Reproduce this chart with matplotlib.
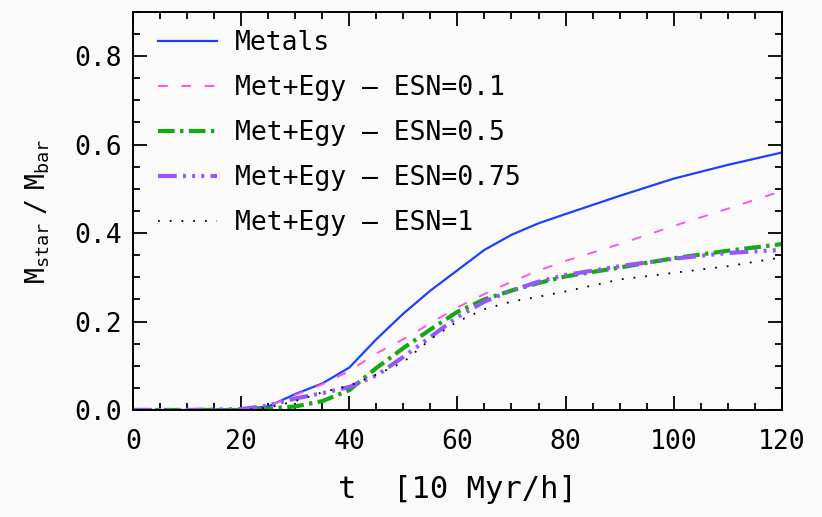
import matplotlib
matplotlib.use("Agg")
import matplotlib.pyplot as plt
from matplotlib.ticker import MultipleLocator

# time axis samples, in units of 10 Myr/h
t = [0, 10, 20, 25, 30, 35, 40, 45, 50, 55, 60, 65, 70, 75, 80, 90, 100, 110, 120]

metals = [0.0, 0.0, 0.002, 0.008, 0.036, 0.06, 0.096, 0.16, 0.218, 0.27, 0.316, 0.362, 0.396, 0.422, 0.443, 0.484, 0.523, 0.554, 0.582]
esn_01 = [0.0, 0.0, 0.002, 0.008, 0.034, 0.058, 0.088, 0.128, 0.16, 0.196, 0.232, 0.262, 0.29, 0.315, 0.337, 0.375, 0.416, 0.455, 0.495]
esn_05 = [0.0, 0.0, 0.0, 0.003, 0.008, 0.02, 0.045, 0.095, 0.14, 0.182, 0.222, 0.25, 0.27, 0.287, 0.302, 0.322, 0.343, 0.36, 0.375]
esn_075 = [0.0, 0.0, 0.002, 0.01, 0.026, 0.038, 0.052, 0.078, 0.12, 0.165, 0.21, 0.245, 0.27, 0.29, 0.305, 0.325, 0.342, 0.355, 0.362]
esn_1 = [0.0, 0.0, 0.0, 0.005, 0.02, 0.04, 0.055, 0.08, 0.108, 0.16, 0.2, 0.228, 0.245, 0.256, 0.268, 0.295, 0.31, 0.325, 0.345]

labels = ["Metals", "Met+Egy \u2013 ESN=0.1", "Met+Egy \u2013 ESN=0.5",
          "Met+Egy \u2013 ESN=0.75", "Met+Egy \u2013 ESN=1"]

plt.rcParams["font.family"] = ["DejaVu Sans Mono", "DejaVu Sans"]
plt.rcParams["mathtext.fontset"] = "custom"
plt.rcParams["mathtext.rm"] = "DejaVu Sans Mono"

fig = plt.figure(figsize=(8.22, 5.17), dpi=100, facecolor="#fafafa")
ax = fig.add_axes([0.162, 0.207, 0.789, 0.770], facecolor="#fafafa")

ax.plot(t, metals, color="#1f3fff", lw=1.6, label=labels[0])
ax.plot(t, esn_01, color="#ff55e0", lw=1.4, dashes=(5, 7), label=labels[1])
ax.plot(t, esn_05, color="#11aa11", lw=3.0, dashes=(4, 1.3, 0.8, 1.3), label=labels[2])
ax.plot(t, esn_075, color="#9955ff", lw=3.0,
        dashes=(4.5, 1.5, 0.7, 1.5, 0.7, 1.5, 0.7, 1.5), label=labels[3])
ax.plot(t, esn_1, color="black", lw=1.3, dashes=(1, 5.5), label=labels[4])

ax.set_xlim(0, 120)
ax.set_ylim(0, 0.9)
ax.xaxis.set_major_locator(MultipleLocator(20))
ax.xaxis.set_minor_locator(MultipleLocator(5))
ax.yaxis.set_major_locator(MultipleLocator(0.2))
ax.yaxis.set_minor_locator(MultipleLocator(0.05))
ax.yaxis.set_major_formatter(plt.FuncFormatter(lambda v, p: f"{v:.1f}"))

ax.tick_params(which="both", direction="in", top=True, right=True, width=1.3,
               labelsize=19)
ax.tick_params(which="major", length=10)
ax.tick_params(which="minor", length=5)
ax.tick_params(axis="x", pad=14)
ax.tick_params(axis="y", pad=8)
for s in ax.spines.values():
    s.set_linewidth(1.4)

ax.set_xlabel("t  [10 Myr/h]", fontsize=22, labelpad=14)
ax.set_ylabel(r"$\mathregular{M_{star}\ /\ M_{bar}}$", fontsize=19, labelpad=16)

ax.legend(loc="upper left", frameon=False, fontsize=19, handlelength=2.2,
          handletextpad=0.7, labelspacing=0.72, borderpad=0, borderaxespad=0,
          bbox_to_anchor=(0.039, 0.955))

fig.savefig("out.png", dpi=100, facecolor=fig.get_facecolor())
